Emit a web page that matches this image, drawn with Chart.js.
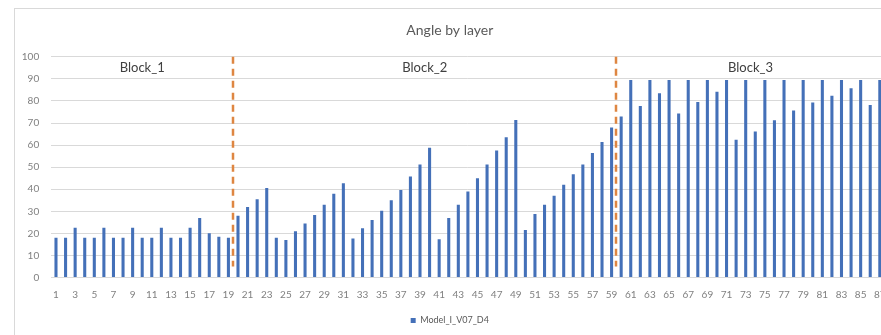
<!DOCTYPE html>
<html>
<head>
<meta charset="utf-8">
<title>Angle by layer</title>
<script src="https://cdn.jsdelivr.net/npm/chart.js@4/dist/chart.umd.min.js"></script>
<style>
  html, body { margin: 0; padding: 0; background: #ffffff; overflow: hidden; }
  #frame {
    position: absolute; left: 14px; top: 8px;
    width: 884px; height: 326px;
    border: 1px solid #d9d9d9; background: #ffffff;
  }
  canvas { display: block; }
</style>
</head>
<body>
<div id="frame"><canvas id="chart" width="884" height="326"></canvas></div>
<script>
// Layer numbers along the x axis
const layers = Array.from({ length: 87 }, (_, i) => String(i + 1));

// Angle per layer, grouped by block
const block1Angles = [18, 18, 22.5, 18, 18, 22.5, 18, 18, 22.5, 18, 18, 22.5, 18, 18, 22.5, 27, 20, 18.5, 18];
const block2Angles = [28, 32, 35.5, 40.5, 18, 17, 21, 24.5, 28.3, 33, 38, 42.7,
                      17.7, 22.3, 26, 30.3, 35, 39.7, 45.8, 51.2, 58.8,
                      17.3, 27, 33, 39, 45, 51.2, 57.6, 63.6, 71.4,
                      21.5, 28.8, 33, 37, 42, 46.8, 51.2, 56.4, 61.4, 68];
const block3Angles = [73, 89.5, 77.7, 89.5, 83.5, 89.5, 74.3, 89.5, 79.5, 89.5, 84.2, 89.5, 62.4, 89.5,
                      66.2, 89.5, 71.2, 89.5, 75.7, 89.5, 79.3, 89.5, 82.3, 89.5, 85.8, 89.5, 78.2, 89.5];
const angles = [...block1Angles, ...block2Angles, ...block3Angles];

// Block names and the layer positions where one block ends and the next begins
const blockNames = ['Block_1', 'Block_2', 'Block_3'];
const blockDividers = [19.5, 59.5];     // in layer numbers
const dividerRange = [5, 100];          // angle span of the divider lines
const blockLabelAngle = 95;             // height of the block names

// y axis ticks
const yMin = 0, yMax = 100, yStep = 10;

const FONT = 'Lato, "Open Sans", sans-serif';

// Draws the dashed block dividers and the block names using the chart scales
const blockPlugin = {
  id: 'blocks',
  afterDatasetsDraw(chart) {
    const { ctx, scales: { x, y } } = chart;
    // layer number -> index on the category scale
    const px = n => x.getPixelForValue(n - 1);
    ctx.save();
    ctx.strokeStyle = '#DE8642';
    ctx.lineWidth = 2.5;
    ctx.setLineDash([7, 5]);
    blockDividers.forEach(d => {
      const xp = Math.round(px(d));
      ctx.beginPath();
      ctx.moveTo(xp, y.getPixelForValue(dividerRange[1]));
      ctx.lineTo(xp, y.getPixelForValue(dividerRange[0]));
      ctx.stroke();
    });
    ctx.setLineDash([]);
    const edges = [0.5, ...blockDividers, layers.length + 0.5];
    ctx.fillStyle = '#404040';
    ctx.font = '13px ' + FONT;
    ctx.textAlign = 'center';
    ctx.textBaseline = 'middle';
    blockNames.forEach((name, i) => {
      const cx = (px(edges[i]) + px(edges[i + 1])) / 2;
      ctx.fillText(name, cx, y.getPixelForValue(blockLabelAngle));
    });
    ctx.restore();
  }
};

new Chart(document.getElementById('chart'), {
  type: 'bar',
  data: {
    labels: layers,
    datasets: [{
      label: 'Model_I_V07_D4',
      data: angles,
      backgroundColor: '#4470B8',
      borderWidth: 0,
      categoryPercentage: 1.0,
      barPercentage: 0.32
    }]
  },
  options: {
    responsive: false,
    devicePixelRatio: 1,
    animation: false,
    layout: { padding: { left: 0, right: 14.4, top: 0, bottom: 0 } },
    plugins: {
      title: {
        display: true,
        text: 'Angle by layer',
        color: '#595959',
        font: { family: FONT, size: 14, weight: 'normal' },
        padding: { top: 13, bottom: 18 }
      },
      legend: {
        position: 'bottom',
        labels: {
          boxWidth: 5, boxHeight: 5,
          color: '#595959',
          font: { family: FONT, size: 9 },
          padding: 10
        }
      },
      tooltip: { enabled: false }
    },
    scales: {
      x: {
        grid: { display: false },
        border: { display: true, color: '#d9d9d9' },
        ticks: {
          autoSkip: false, maxRotation: 0, minRotation: 0,
          color: '#808080',
          font: { family: FONT, size: 10 },
          padding: 3,
          callback: (v, i) => (i % 2 === 0 ? layers[i] : '')
        },
        afterFit: s => { s.height = 28.5; s.paddingLeft = 0; s.paddingRight = 0; }
      },
      y: {
        min: yMin, max: yMax,
        grid: { color: '#d9d9d9', drawTicks: false },
        border: { display: false },
        ticks: {
          stepSize: yStep,
          color: '#808080',
          font: { family: FONT, size: 10 },
          padding: 12
        },
        afterFit: s => { s.width = 36.2; }
      }
    }
  },
  plugins: [blockPlugin]
});
</script>
</body>
</html>
